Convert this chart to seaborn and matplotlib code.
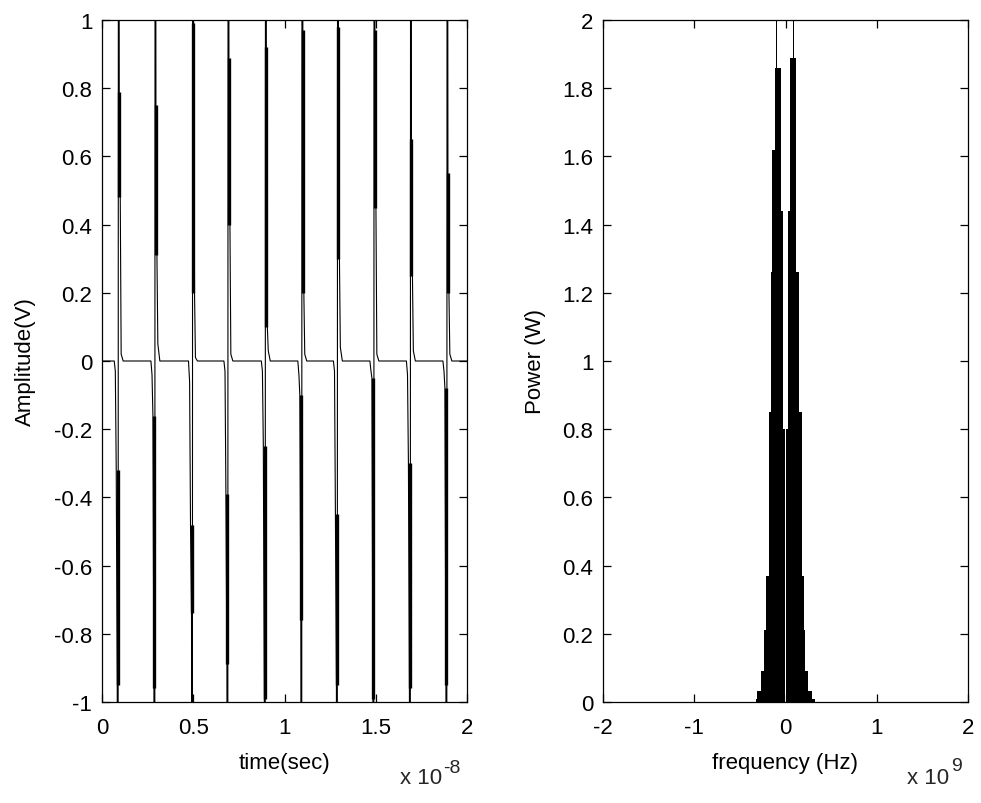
import numpy as np
import pandas as pd
import matplotlib
matplotlib.use("Agg")
import matplotlib.pyplot as plt
import seaborn as sns

sns.set_theme(style="white")
plt.rcParams['font.family'] = ['Liberation Sans', 'DejaVu Sans']
plt.rcParams['path.simplify'] = False

# ---------------- data: time-domain pulse train (time in units of 1e-8 s) -------------
pulse_cross = [0.089, 0.29, 0.496, 0.69, 0.895, 1.095, 1.29, 1.49, 1.69, 1.89]
sample_offsets = [-0.022, -0.016, -0.011, -0.0055, -0.0016, 0.0016, 0.0055, 0.011, 0.016, 0.027]
notch = [-0.03, -0.04, -0.06, -0.03, -0.03, -0.04, -0.03, -0.03, -0.04, -0.03]
neg_knee = [-0.32, -0.16, -0.48, -0.39, -0.25, -0.10, -0.45, -0.05, -0.30, -0.08]
neg_end = [-0.95, -0.96, -0.74, -0.89, -0.99, -0.76, -0.95, -0.99, -0.96, -0.95]
neg_peak = [-3.0] * 10
pos_peak = [3.0] * 10
pos_top = [0.79, 0.75, 0.99, 0.89, 0.92, 0.97, 0.98, 0.97, 0.65, 0.55]
pos_knee = [0.48, 0.31, 0.20, 0.40, 0.10, 0.20, 0.30, 0.45, 0.25, 0.20]
tail = [0.02, 0.05, 0.01, 0.02, 0.03, 0.02, 0.04, 0.02, 0.03, 0.02]

# ---------------- data: power spectrum envelope (frequency in units of 1e9 Hz) --------
freq_edges = [-0.322, -0.315, -0.267, -0.231, -0.212, -0.184, -0.154, -0.143, -0.110,
              -0.099, -0.088, -0.044, -0.027, -0.005, 0.005, 0.025, 0.052, 0.077,
              0.088, 0.110, 0.143, 0.184, 0.202, 0.216, 0.249, 0.293, 0.319]
power = [0.01, 0.033, 0.09, 0.21, 0.37, 0.85, 1.26, 1.62, 1.86, 2.3, 1.86, 1.44, 0.8,
         0.0, 0.8, 1.44, 1.89, 2.3, 1.89, 1.26, 0.85, 0.37, 0.21, 0.09, 0.033, 0.01]

left_xticks = [0, 0.5, 1, 1.5, 2]
left_xticklabels = ["0", "0.5", "1", "1.5", "2"]
left_yticks = [-1, -0.8, -0.6, -0.4, -0.2, 0, 0.2, 0.4, 0.6, 0.8, 1]
left_yticklabels = ["-1", "-0.8", "-0.6", "-0.4", "-0.2", "0", "0.2", "0.4", "0.6", "0.8", "1"]
right_xticks = [-2, -1, 0, 1, 2]
right_xticklabels = ["-2", "-1", "0", "1", "2"]
right_yticks = [0, 0.2, 0.4, 0.6, 0.8, 1, 1.2, 1.4, 1.6, 1.8, 2]
right_yticklabels = ["0", "0.2", "0.4", "0.6", "0.8", "1", "1.2", "1.4", "1.6", "1.8", "2"]

# build time series table from the per-pulse readings
t_list = [0.0]
v_list = [0.0]
for i, tc in enumerate(pulse_cross):
    vals = [0.0, notch[i], neg_knee[i], neg_end[i], neg_peak[i], pos_peak[i],
            pos_top[i], pos_knee[i], tail[i], 0.0]
    for off, v in zip(sample_offsets, vals):
        t_list.append(tc + off)
        v_list.append(v)
t_list.append(2.0)
v_list.append(0.0)
df_t = pd.DataFrame({"t": t_list, "v": v_list})

centers = [(a + b) / 2 for a, b in zip(freq_edges[:-1], freq_edges[1:])]
df_f = pd.DataFrame({"f": centers, "p": power})

FS = 16
fig = plt.figure(figsize=(9.81, 8.04), dpi=100)
ax1 = fig.add_axes([102 / 981, 1 - 703 / 804, 365 / 981, 682 / 804])
ax2 = fig.add_axes([603 / 981, 1 - 703 / 804, 365 / 981, 682 / 804])

sns.lineplot(data=df_t, x="t", y="v", ax=ax1, color="black", lw=0.8,
             estimator=None, sort=False)
# dense overlapping sample segments appear as thicker strokes
pc = np.array(pulse_cross)
ax1.vlines(pc - 0.004, neg_end, neg_knee, color="black", lw=2.4)
ax1.vlines(pc + 0.004, pos_knee, pos_top, color="black", lw=2.4)

sns.histplot(data=df_f, x="f", weights="p", bins=freq_edges, ax=ax2,
             element="step", fill=True, color="black", alpha=1.0, linewidth=0)

for ax in (ax1, ax2):
    for s in ax.spines.values():
        s.set_color("black")
        s.set_linewidth(0.9)
        s.set_visible(True)
    ax.tick_params(direction="in", length=6, width=0.9, color="black",
                   top=True, right=True, bottom=True, left=True,
                   labelsize=FS, labelcolor="black")
    ax.tick_params(axis="x", pad=11)
    ax.tick_params(axis="y", pad=7)
    ax.grid(False)

ax1.set_xlim(0, 2)
ax1.set_ylim(-1, 1)
ax1.set_xticks(left_xticks)
ax1.set_xticklabels(left_xticklabels)
ax1.set_yticks(left_yticks)
ax1.set_yticklabels(left_yticklabels)
ax1.set_xlabel("time(sec)", fontsize=FS, color="black", labelpad=10)
ax1.set_ylabel("Amplitude(V)", fontsize=FS, color="black", labelpad=13)

ax2.set_xlim(-2, 2)
ax2.set_ylim(0, 2)
ax2.set_xticks(right_xticks)
ax2.set_xticklabels(right_xticklabels)
ax2.set_yticks(right_yticks)
ax2.set_yticklabels(right_yticklabels)
ax2.set_xlabel("frequency (Hz)", fontsize=FS, color="black", labelpad=10)
ax2.set_ylabel("Power (W)", fontsize=FS, color="black", labelpad=12)

# MATLAB-style exponent annotations
fig.text(400 / 981, 1 - 784 / 804, "x 10", fontsize=FS, ha="left", va="baseline")
fig.text(443 / 981, 1 - 773 / 804, "-8", fontsize=FS - 2, ha="left", va="baseline")
fig.text(907 / 981, 1 - 784 / 804, "x 10", fontsize=FS, ha="left", va="baseline")
fig.text(951 / 981, 1 - 771 / 804, "9", fontsize=FS - 2, ha="left", va="baseline")

fig.savefig("out.png", dpi=100, facecolor="white")
